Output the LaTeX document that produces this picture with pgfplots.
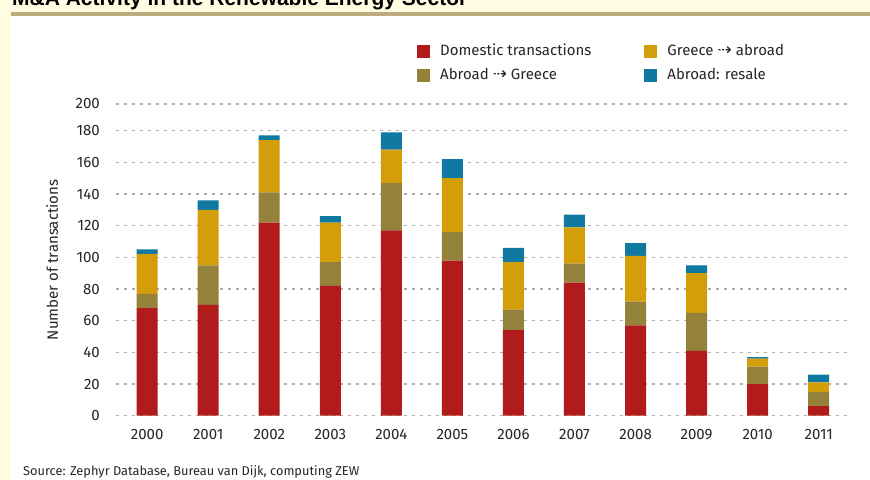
\documentclass[border=0pt]{standalone}
\usepackage{pgfplots}
\pgfplotsset{compat=1.18}
\usepackage{fontspec}
\setmainfont{Fira Sans}
\newfontfamily\arrowfont{DejaVu Sans}
\newfontfamily\titlefont{Liberation Sans}

\definecolor{cream}{HTML}{FFFCE2}
\definecolor{headline}{HTML}{BEAC7E}
\definecolor{domestic}{HTML}{B21B1B}
\definecolor{abroadgr}{HTML}{95823A}
\definecolor{grabroad}{HTML}{D49D0A}
\definecolor{resale}{HTML}{1079A1}

\newcommand{\darr}{{\arrowfont\fontsize{17bp}{17bp}\selectfont ⇢}}

% stacked counts per year: domestic, abroad->greece, greece->abroad, resale
\pgfplotstableread{
x year dom abgr grab res
0  2000 68  9 25  3
1  2001 70 25 35  6
2  2002 122 19 33 3
3  2003 82 15 25  4
4  2004 117 30 21 11
5  2005 98 18 34 12
6  2006 54 13 30  9
7  2007 84 12 23  8
8  2008 57 15 29  8
9  2009 41 24 25  5
10 2010 20 11  5  1
11 2011 6   9  6  5
}\mna

\begin{document}
\begin{tikzpicture}
\useasboundingbox (0,0) rectangle (870bp,480bp);
\clip (0,0) rectangle (870bp,480bp);
\fill[cream] (0,0) rectangle (870bp,480bp);
\fill[white] (11bp,0) rectangle (870bp,464bp);
\fill[headline] (11bp,464bp) rectangle (870bp,468bp);
\node[anchor=base west, inner sep=0, font=\titlefont\bfseries\fontsize{21bp}{24bp}\selectfont]
  at (12bp,474.8bp) {M\&A Activity in the Renewable Energy Sector};

\begin{axis}[
    at={(116bp,64.3bp)}, anchor=south west,
    scale only axis, width=732bp, height=311.7bp,
    xmin=-0.51, xmax=11.48, ymin=0, ymax=196.9,
    ybar stacked, bar width=21bp,
    axis line style={draw=none},
    major tick length=0pt,
    xtick={0,...,11},
    xticklabels={2000,2001,2002,2003,2004,2005,2006,2007,2008,2009,2010,2011},
    ytick={0,20,40,60,80,100,120,140,160,180,196.9},
    yticklabels={0,20,40,60,80,100,120,140,160,180,200},
    ymajorgrids,
    grid style={black!32, line width=1.3bp, dash pattern=on 3bp off 5bp},
    tick label style={font=\fontsize{15bp}{17bp}\selectfont, text=black!85},
    yticklabel style={inner sep=0pt, xshift=-16bp},
    xticklabel style={inner sep=0pt, yshift=-13.5bp},
    ylabel={Number of transactions},
    every axis y label/.style={at={(axis description cs:-0.0874,0.5)}, rotate=90, anchor=center,
        font=\fontsize{15bp}{17bp}\selectfont, text=black!85},
    legend columns=2, transpose legend,
    legend cell align=left,
    legend image code/.code={\fill[#1,draw=none] (0bp,-6.5bp) rectangle (13bp,6.5bp);},
    legend style={draw=none, fill=none, at={(axis description cs:0.4071,1.196)}, anchor=north west,
        font=\fontsize{15bp}{17bp}\selectfont, text=black!85,
        nodes={inner sep=0pt, text height=10.5bp, text depth=3bp},
        row sep=10bp,
        /tikz/every odd column/.append style={column sep=10bp},
        /tikz/every even column/.append style={column sep=53bp}},
]
\addplot[fill=domestic, draw=none] table[x=x, y=dom] {\mna};
\addplot[fill=abroadgr, draw=none] table[x=x, y=abgr] {\mna};
\addplot[fill=grabroad, draw=none] table[x=x, y=grab] {\mna};
\addplot[fill=resale, draw=none] table[x=x, y=res] {\mna};
\legend{Domestic transactions, Abroad \darr{} Greece, Greece \darr{} abroad, Abroad: resale}
\end{axis}

\node[anchor=base west, inner sep=0, font=\fontsize{12.8bp}{14bp}\selectfont, text=black!85]
  at (23bp,4.5bp) {Source: Zephyr Database, Bureau van Dijk, computing ZEW};
\end{tikzpicture}
\end{document}
